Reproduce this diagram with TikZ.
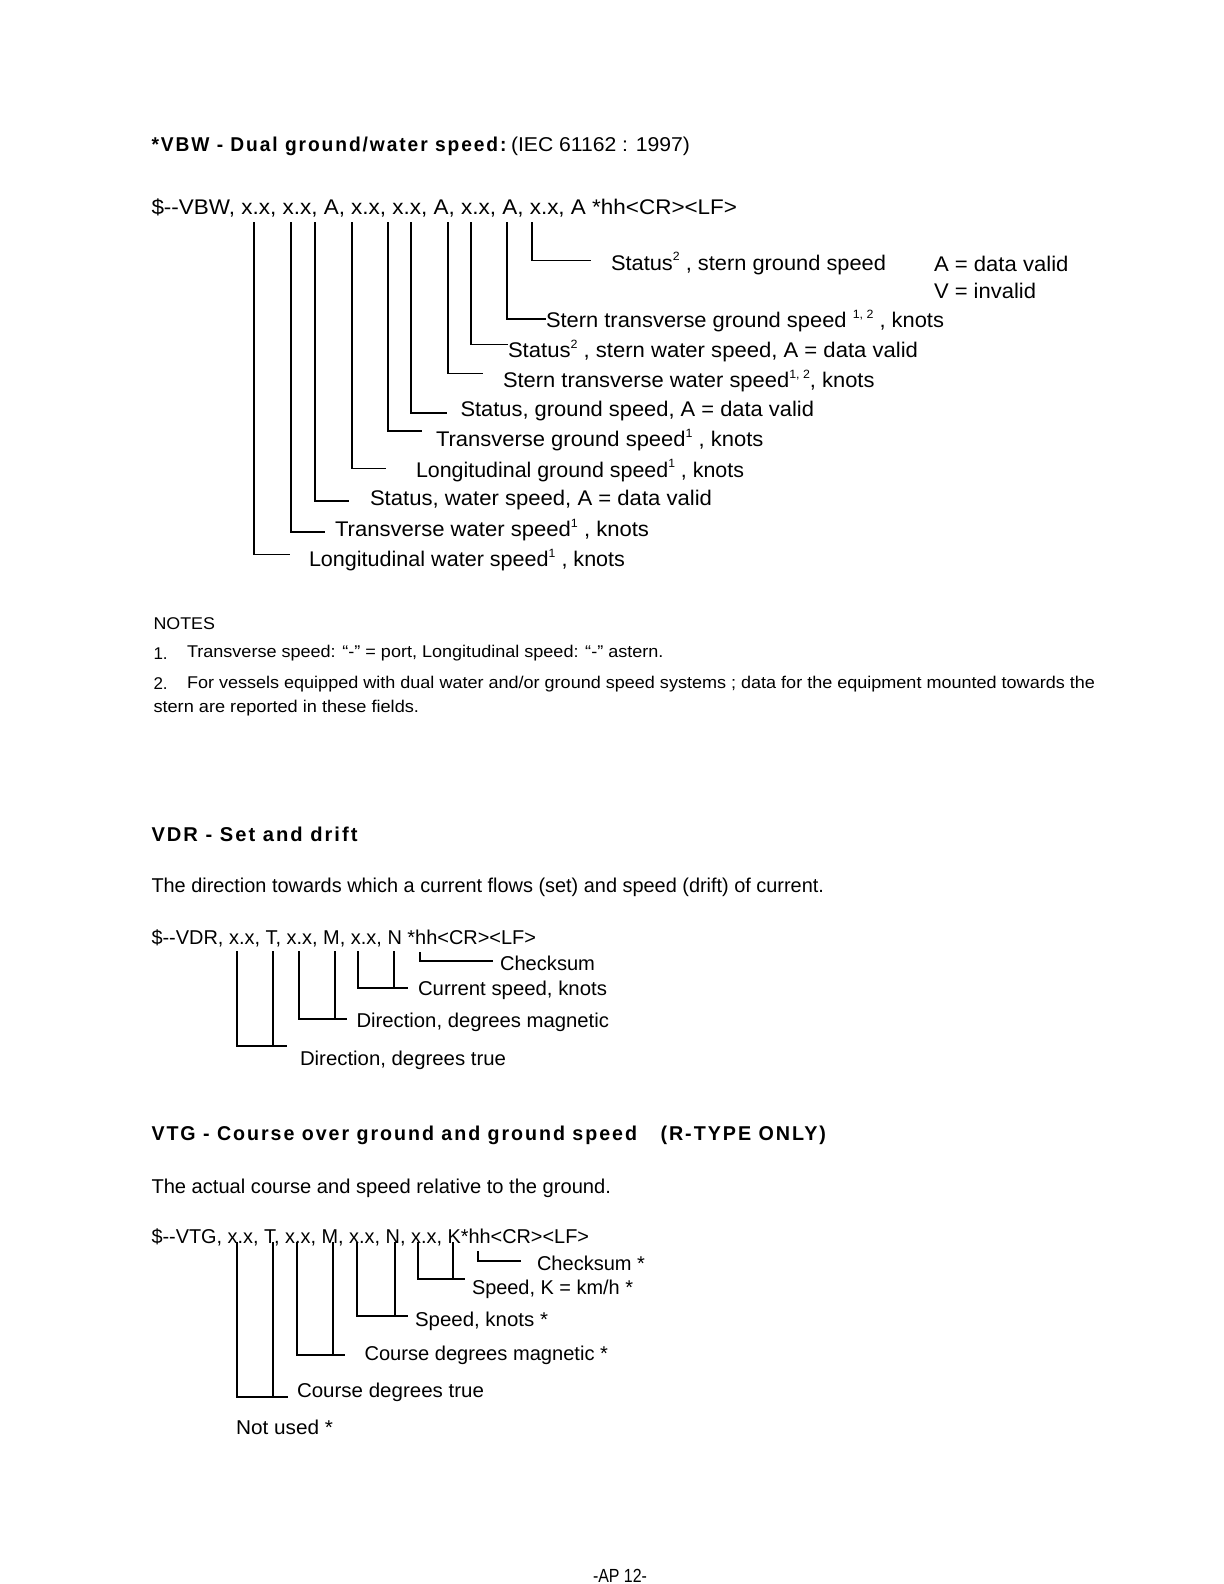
\documentclass[tikz,border=0pt]{standalone}
\usepackage{fontspec}
\setmainfont{Liberation Sans}
\newfontfamily\titlefont[LetterSpace=10]{Liberation Sans}
\usepackage{graphicx}
\newlength\pxu \setlength\pxu{0.5pt}
\newcommand\fitw[2]{\resizebox{#1\pxu}{\height}{#2}}
\newcommand\sups[1]{\raisebox{0.85ex}{\fontsize{6}{7}\selectfont #1}}
\tikzset{
  txt/.style={anchor=west, inner sep=0pt, outer sep=0pt, yshift=-1pt},
  ttl/.style={txt, font=\titlefont\bfseries\fontsize{10}{12}\selectfont},
  big/.style={txt, font=\fontsize{10.6}{12}\selectfont},
  mid/.style={txt, font=\fontsize{10}{12}\selectfont},
  seqline/.style={yshift=-0.5pt},
  note/.style={txt, font=\fontsize{8.5}{10}\selectfont},
  conn/.style={line width=0.9pt, line cap=butt},
}
\begin{document}
\begin{tikzpicture}[x=0.5pt,y=-0.5pt]
\useasboundingbox[fill=white] (0,0) rectangle (1224,1584);

% ---------------- VBW ----------------
\node[ttl] (vbwt) at (151.5,144) {\fitw{355}{*VBW - Dual ground/water speed:}};
\node[mid] (vbwi) at (511,144) {\fitw{179}{(IEC 61162 : 1997)}};
\node[big] (vbws) at (151.5,206) {\fitw{585.5}{\$-{}-VBW, x.x, x.x, A, x.x, x.x, A, x.x, A, x.x, A *hh<CR><LF>}};

\coordinate (v1) at (254,222);  \coordinate (w1) at (290,554.5);
\coordinate (v2) at (291,222);  \coordinate (w2) at (325,532);
\coordinate (v3) at (315,222);  \coordinate (w3) at (349,501);
\coordinate (v4) at (352,222);  \coordinate (w4) at (386,468.5);
\coordinate (v5) at (388,222);  \coordinate (w5) at (422,431);
\coordinate (v6) at (411,222);  \coordinate (w6) at (447,413);
\coordinate (v7) at (448,222);  \coordinate (w7) at (483,373.5);
\coordinate (v8) at (471,222);  \coordinate (w8) at (508,344.5);
\coordinate (v9) at (507,222);  \coordinate (w9) at (546,319);
\coordinate (v10) at (532,222); \coordinate (w10) at (591,260.5);
\foreach \i in {1,...,10} { \draw[conn] (v\i) |- (w\i); }

\node[big] (l1) at (309,558) {\fitw{316}{Longitudinal water speed\sups{1} , knots}};
\node[big] (l2) at (335,528) {\fitw{314}{Transverse water speed\sups{1} , knots}};
\node[big] (l3) at (370,498) {\fitw{342}{Status, water speed, A = data valid}};
\node[big] (l4) at (416,468.5) {\fitw{328}{Longitudinal ground speed\sups{1} , knots}};
\node[big] (l5) at (436,438) {\fitw{327.5}{Transverse ground speed\sups{1} , knots}};
\node[big] (l6) at (460.5,409) {\fitw{353.5}{Status, ground speed, A = data valid}};
\node[big] (l7) at (503,379) {\fitw{371.5}{Stern transverse water speed\sups{1, 2}, knots}};
\node[big] (l8) at (508,349) {\fitw{410}{Status\sups{2} , stern water speed, A = data valid}};
\node[big] (l9) at (546,319) {\fitw{398}{Stern transverse ground speed \sups{1, 2} , knots}};
\node[big] (l10) at (611,261.5) {\fitw{275}{Status\sups{2} , stern ground speed}};
\node[big] (av) at (934,261.5) {\fitw{134.5}{A = data valid}};
\node[big] (vi) at (934,289) {\fitw{102}{V = invalid}};

% ---------------- NOTES ----------------
\node[note] (nt) at (153.5,622) {\fitw{61.5}{NOTES}};
\node[note] (n1a) at (153.5,651.5) {1.};
\node[note] (n1) at (187,651.5) {\fitw{476.5}{Transverse speed: “-” = port, Longitudinal speed: “-” astern.}};
\node[note] (n2a) at (153.5,682) {2.};
\node[note] (n2) at (187,682) {\fitw{908}{For vessels equipped with dual water and/or ground speed systems ; data for the equipment mounted towards the}};
\node[note] (n2b) at (153.5,706) {\fitw{265.5}{stern are reported in these fields.}};

% ---------------- VDR ----------------
\node[ttl] (vdrt) at (151.5,832) {\fitw{206}{VDR - Set and drift}};
\node[mid] (vdrd) at (151.5,885) {\fitw{672.5}{The direction towards which a current flows (set) and speed (drift) of current.}};
\node[mid, seqline] (vdrs) at (151.5,935) {\fitw{384.5}{\$-{}-VDR, x.x, T, x.x, M, x.x, N *hh<CR><LF>}};

\coordinate (d1a) at (237,951); \coordinate (d1b) at (273,951); \coordinate (d1e) at (287,1046);
\coordinate (d2a) at (299,951); \coordinate (d2b) at (335,951); \coordinate (d2e) at (347,1019);
\coordinate (d3a) at (358,951); \coordinate (d3b) at (394,951); \coordinate (d3e) at (408,988);
\coordinate (d4a) at (420,952); \coordinate (d4e) at (493,961);
\foreach \i in {1,2,3} {
  \draw[conn] (d\i a) |- (d\i e);
  \draw[conn] (d\i b) -- (d\i b |- d\i e);
}
\draw[conn] (d4a) |- (d4e);

\node[mid] (dl4) at (500,961) {\fitw{95}{Checksum}};
\node[mid] (dl3) at (418,988) {\fitw{189}{Current speed, knots}};
\node[mid] (dl2) at (356.5,1020) {\fitw{252.5}{Direction, degrees magnetic}};
\node[mid] (dl1) at (300,1058) {\fitw{206}{Direction, degrees true}};

% ---------------- VTG ----------------
\node[ttl] (vtgt) at (151.5,1133) {\fitw{485.5}{VTG - Course over ground and ground speed}};
\node[ttl] (vtgr) at (660.5,1133) {\fitw{165.5}{(R-TYPE ONLY)}};
\node[mid] (vtgd) at (151.5,1186) {\fitw{459.5}{The actual course and speed relative to the ground.}};
\node[mid, seqline] (vtgs) at (151.5,1234) {\fitw{437.5}{\$-{}-VTG, x.x, T, x.x, M, x.x, N, x.x, K*hh<CR><LF>}};

\coordinate (g1a) at (237,1242); \coordinate (g1b) at (273,1242); \coordinate (g1e) at (288,1397);
\coordinate (g2a) at (297,1242); \coordinate (g2b) at (333,1242); \coordinate (g2e) at (345,1355);
\coordinate (g3a) at (357,1242); \coordinate (g3b) at (395,1242); \coordinate (g3e) at (408,1316);
\coordinate (g4a) at (418,1242); \coordinate (g4b) at (453,1242); \coordinate (g4e) at (465,1279);
\coordinate (g5a) at (478,1251); \coordinate (g5e) at (521,1261);
\foreach \i in {1,2,3,4} {
  \draw[conn] (g\i a) |- (g\i e);
  \draw[conn] (g\i b) -- (g\i b |- g\i e);
}
\draw[conn] (g5a) |- (g5e);

\node[mid] (gl5) at (537,1261) {\fitw{108}{Checksum *}};
\node[mid] (gl4) at (472,1287) {\fitw{161}{Speed, K = km/h *}};
\node[mid] (gl3) at (415,1319) {\fitw{133}{Speed, knots *}};
\node[mid] (gl2) at (364.5,1353) {\fitw{243.5}{Course degrees magnetic *}};
\node[mid] (gl1) at (297,1390) {\fitw{187}{Course degrees true}};
\node[mid] (gl0) at (236,1425) {\fitw{97}{Not used *}};

% ---------------- footer ----------------
\node[mid, anchor=base west, yshift=0pt, font=\fontsize{9.5}{11}\selectfont] (foot) at (593,1580) {\fitw{54}{-AP 12-}};
\end{tikzpicture}
\end{document}
